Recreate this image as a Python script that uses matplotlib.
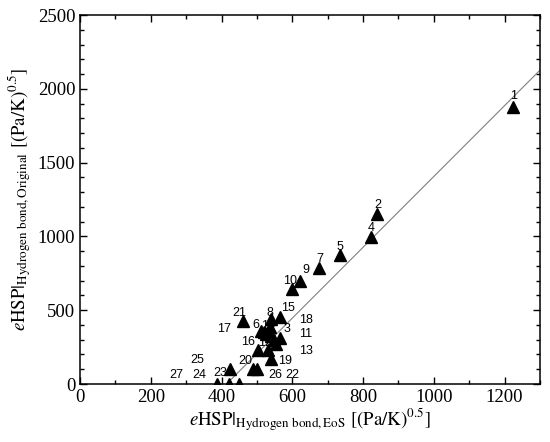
import matplotlib
matplotlib.use("Agg")
import matplotlib.pyplot as plt
from matplotlib.ticker import MultipleLocator

plt.rcParams['mathtext.fontset'] = 'stix'
plt.rcParams['font.family'] = ['Liberation Serif', 'DejaVu Serif']

# data points (x: eHSP EoS, y: eHSP Original)
x_vals = [1225, 840, 822, 736, 676, 622, 599,
          461, 539, 564, 512, 536, 526, 540, 566, 555, 503, 531, 540, 520, 548,
          424, 490, 499, 386, 421, 450]
y_vals = [1875, 1155, 994, 874, 786, 700, 641,
          427, 440, 451, 359, 386, 339, 325, 315, 271, 228, 228, 171, 350, 300,
          100, 100, 100, 0, 0, 0]

# labels and where they are written (data coordinates)
labels = ['1', '2', '4', '5', '7', '9', '10', '8', '15', '21', '6', '17', '18', '3',
          '11', '16', '13', '19', '20', '26', '22', '27', '24', '23', '25', '12', '14']
label_x = [1226, 841, 822, 736, 678, 638, 593, 537, 588, 450, 496, 407, 638, 586,
           638, 475, 638, 579, 466, 551, 601, 273, 336, 395, 330, 523, 532]
label_y = [1951, 1213, 1057, 928, 847, 772, 700, 483, 513, 483, 400, 370, 434, 370,
           337, 287, 226, 156, 158, 61, 61, 61, 61, 77, 163, 275, 395]

# fitted line
line_slope = 2.40
line_x0 = 414
line_xs = [line_x0, 1300]

fig = plt.figure(figsize=(5.5, 4.42), dpi=100)
ax = fig.add_axes([0.1455, 0.1312, 0.8363, 0.8348])

ax.plot(line_xs, [line_slope * (v - line_x0) for v in line_xs], color='#808080', lw=0.8, zorder=2)

for t, lx, ly in zip(labels, label_x, label_y):
    ax.text(lx, ly, t, ha='center', va='center', fontsize=9,
            family=['Liberation Sans', 'DejaVu Sans'], zorder=3)

ax.plot(x_vals, y_vals, linestyle='none', marker='^', color='black', markersize=9, zorder=4)

ax.set_xlim(0, 1300)
ax.set_ylim(0, 2500)
ax.xaxis.set_major_locator(MultipleLocator(200))
ax.xaxis.set_minor_locator(MultipleLocator(100))
ax.yaxis.set_major_locator(MultipleLocator(500))
ax.yaxis.set_minor_locator(MultipleLocator(100))
ax.tick_params(which='both', direction='in', top=True, right=True, labelsize=13.5, width=1.0)
ax.tick_params(which='major', length=5)
ax.tick_params(which='minor', length=3)
for s in ax.spines.values():
    s.set_linewidth(1.1)

ax.set_xlabel(r'$\mathit{e}\mathrm{HSP}|_{\mathrm{Hydrogen\ bond,EoS}}\ [(\mathrm{Pa/K})^{0.5}]$', fontsize=13.5, labelpad=0)
ax.set_ylabel(r'$\mathit{e}\mathrm{HSP}|_{\mathrm{Hydrogen\ bond,Original}}\ [(\mathrm{Pa/K})^{0.5}]$', fontsize=13.5, labelpad=3)

fig.savefig('out.png', dpi=100)
